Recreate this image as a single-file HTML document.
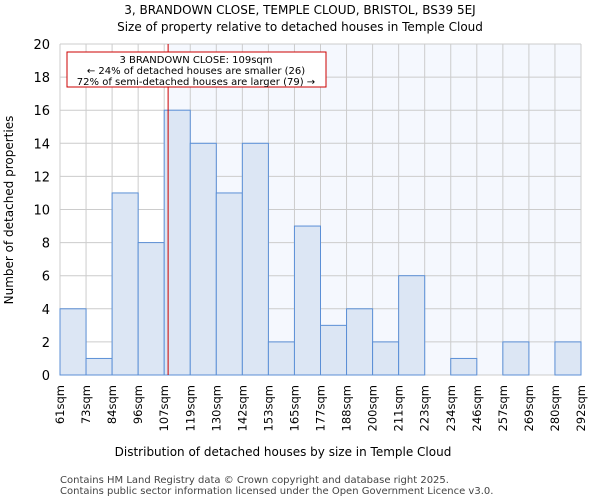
<!DOCTYPE html>
<html><head><meta charset="utf-8"><style>
body{margin:0;background:#fff;font-family:"DejaVu Sans","Liberation Sans",sans-serif}
svg text{font-family:"DejaVu Sans","Liberation Sans",sans-serif}
</style></head><body>
<svg id="c" width="600" height="500" xmlns="http://www.w3.org/2000/svg">
<text x="300" y="14" font-size="12" text-anchor="middle">3, BRANDOWN CLOSE, TEMPLE CLOUD, BRISTOL, BS39 5EJ</text>
<text x="300" y="31" font-size="12" text-anchor="middle">Size of property relative to detached houses in Temple Cloud</text>
<text x="283" y="456" font-size="12" text-anchor="middle">Distribution of detached houses by size in Temple Cloud</text>
<text transform="translate(13,210) rotate(-90)" font-size="12" text-anchor="middle">Number of detached properties</text>
<text x="60" y="483" font-size="10" fill="#444">Contains HM Land Registry data © Crown copyright and database right 2025.</text>
<text x="60" y="494" font-size="10" fill="#444">Contains public sector information licensed under the Open Government Licence v3.0.</text>
<g id="plot"></g>
</svg>
<script>
const edgeLabels=["61sqm","73sqm","84sqm","96sqm","107sqm","119sqm","130sqm","142sqm","153sqm","165sqm","177sqm","188sqm","200sqm","211sqm","223sqm","234sqm","246sqm","257sqm","269sqm","280sqm","292sqm"];
const counts=[4,1,11,8,16,14,11,14,2,9,3,4,2,6,0,1,0,2,0,2];
const yTicks=[0,2,4,6,8,10,12,14,16,18,20];
const markerBinPos=4.15;
const NS="http://www.w3.org/2000/svg";
const g=document.getElementById('plot');
const X0=60,X1=581,Y0=375,Y1=44,yMax=20;
const bw=(X1-X0)/counts.length;
const xs=i=>X0+i*bw, ys=v=>Y0-(v/yMax)*(Y0-Y1);
function mk(t,a,p){const e=document.createElementNS(NS,t);for(const k in a)e.setAttribute(k,a[k]);(p||g).appendChild(e);return e;}
const mx=xs(markerBinPos);
let e=mk('rect',{x:mx,y:Y1,width:X1-mx,height:Y0-Y1,fill:'#f5f8fe'});


yTicks.forEach(v=>{
 let l=mk('line',{x1:X0,x2:X1,y1:ys(v),y2:ys(v),stroke:'#ccc','stroke-width':1});
 
 
 let t=mk('text',{x:50,y:ys(v)+5,'font-size':13,'text-anchor':'end'});t.textContent=v;
 
 
});
edgeLabels.forEach((s,i)=>{
 let l=mk('line',{x1:xs(i),x2:xs(i),y1:Y1,y2:Y0,stroke:'#ccc','stroke-width':1});
 
 
 let t=mk('text',{transform:`translate(${xs(i)+4},385) rotate(-90)`,'font-size':11.5,'text-anchor':'end'});t.textContent=s;
 
 
});
counts.forEach((v,i)=>{
 if(v<=0)return;
 let r=mk('rect',{x:xs(i),y:ys(v),width:bw,height:Y0-ys(v),fill:'#dce6f4',stroke:'#5b8fd6','stroke-width':1});
 
 
});
let rl=mk('line',{x1:mx,x2:mx,y1:Y1,y2:Y0,stroke:'#cc0000','stroke-width':1});


let bx=mk('rect',{x:67,y:52,width:259,height:35,fill:'#fff',stroke:'#cc0000','stroke-width':1});


["3 BRANDOWN CLOSE: 109sqm","← 24% of detached houses are smaller (26)","72% of semi-detached houses are larger (79) →"].forEach((s,i)=>{
 let t=mk('text',{x:196,y:63+i*11,'font-size':10,'text-anchor':'middle'});t.textContent=s;
 
 
});
</script>
</body></html>
